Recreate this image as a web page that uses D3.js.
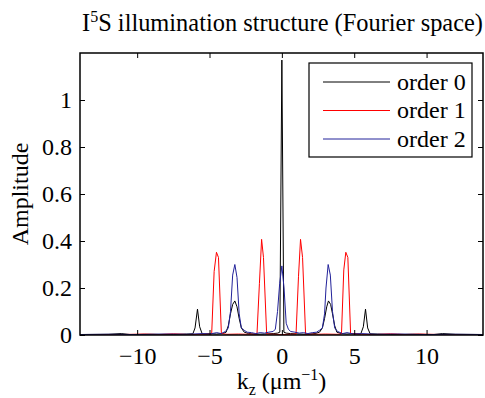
<!DOCTYPE html>
<html>
<head>
<meta charset="utf-8">
<script src="https://cdn.jsdelivr.net/npm/d3@7"></script>
<style>
  body { margin: 0; background: #fff; }
  svg text { font-family: "Liberation Serif", "Times New Roman", serif; }
</style>
</head>
<body>
<svg id="chart" width="485" height="398"></svg>
<script>
// k_z (um^-1), amplitude pairs
var order0 = [[-14,0.002],[-12,0.003],[-11.1,0.006],[-10.5,0.002],[-9,0.003],[-7.5,0.002],[-6.6,0.004],[-6.15,0.005],[-6.0,0.03],[-5.83,0.11],[-5.68,0.035],[-5.5,0.004],[-5.0,0.006],[-4.5,0.004],[-4.1,0.006],[-3.85,0.012],[-3.7,0.04],[-3.55,0.09],[-3.4,0.13],[-3.25,0.145],[-3.1,0.12],[-2.95,0.07],[-2.8,0.03],[-2.6,0.012],[-2.3,0.006],[-1.8,0.003],[-1.2,0.004],[-0.6,0.006],[-0.3,0.008],[-0.14,0.012],[0,1.17],[0.14,0.012],[0.3,0.008],[0.6,0.006],[1.2,0.004],[1.8,0.003],[2.3,0.006],[2.6,0.012],[2.8,0.03],[2.95,0.07],[3.1,0.12],[3.22,0.145],[3.37,0.13],[3.5,0.09],[3.65,0.04],[3.8,0.012],[4.1,0.006],[4.5,0.004],[5.0,0.006],[5.45,0.004],[5.63,0.035],[5.78,0.11],[5.93,0.03],[6.1,0.005],[6.6,0.004],[7.5,0.002],[9,0.003],[10.5,0.002],[11.1,0.006],[12,0.003],[14,0.002]];
var order1 = [[-14,0.001],[-11,0.002],[-9.5,0.004],[-8.5,0.002],[-7.5,0.005],[-6.5,0.002],[-5.5,0.003],[-4.85,0.004],[-4.68,0.27],[-4.52,0.352],[-4.38,0.33],[-4.18,0.006],[-3.8,0.003],[-3.0,0.004],[-2.4,0.003],[-1.72,0.004],[-1.55,0.22],[-1.4,0.407],[-1.27,0.33],[-1.05,0.004],[-0.6,0.003],[0,0.002],[0.6,0.003],[0.98,0.004],[1.15,0.25],[1.29,0.407],[1.43,0.33],[1.64,0.004],[2.4,0.003],[3.0,0.004],[3.8,0.003],[4.12,0.004],[4.28,0.277],[4.42,0.352],[4.56,0.33],[4.75,0.006],[5.5,0.003],[6.5,0.002],[7.5,0.005],[8.5,0.002],[9.5,0.004],[11,0.002],[14,0.001]];
var order2 = [[-14,0.002],[-12,0.003],[-10,0.002],[-8,0.004],[-6.5,0.003],[-5.5,0.006],[-5.0,0.004],[-4.5,0.01],[-4.2,0.006],[-3.9,0.015],[-3.7,0.03],[-3.55,0.1],[-3.4,0.255],[-3.25,0.30],[-3.1,0.245],[-2.95,0.09],[-2.8,0.03],[-2.6,0.02],[-2.4,0.012],[-2.1,0.01],[-1.8,0.006],[-1.5,0.01],[-1.2,0.008],[-0.9,0.012],[-0.6,0.015],[-0.45,0.025],[-0.3,0.1],[-0.15,0.22],[0,0.294],[0.15,0.2],[0.3,0.05],[0.45,0.025],[0.6,0.015],[0.9,0.012],[1.2,0.008],[1.5,0.01],[1.8,0.006],[2.1,0.01],[2.4,0.012],[2.6,0.02],[2.8,0.03],[2.95,0.09],[3.05,0.2],[3.2,0.30],[3.35,0.255],[3.5,0.1],[3.65,0.03],[3.85,0.015],[4.2,0.006],[4.5,0.01],[5.0,0.004],[5.5,0.006],[6.5,0.003],[8,0.004],[10,0.002],[12,0.003],[14,0.002]];

var seriesNames = ["order 0", "order 1", "order 2"];
var seriesColors = ["#000000", "#ff0000", "#22229a"];
var xTicks = [-10, -5, 0, 5, 10];
var yTicks = [0, 0.2, 0.4, 0.6, 0.8, 1];

var dd = { left: 80, right: 483, top: 53, bottom: 335 };

var svg = d3.select("#chart");

var x = d3.scaleLinear().domain([-13.95, 13.9]).range([dd.left, dd.right]);
var y = d3.scaleLinear().domain([0, 1.2]).range([dd.bottom, dd.top]);

svg.append("clipPath").attr("id", "clip")
  .append("rect")
  .attr("x", dd.left).attr("y", dd.top)
  .attr("width", dd.right - dd.left).attr("height", dd.bottom - dd.top);

var line = d3.line()
  .x(function(d) { return x(d[0]); })
  .y(function(d) { return y(d[1]); });

var plot = svg.append("g").attr("clip-path", "url(#clip)");
[order0, order1, order2].forEach(function(s, i) {
  plot.append("path")
    .datum(s)
    .attr("fill", "none")
    .attr("stroke", seriesColors[i])
    .attr("stroke-width", 1)
    .attr("d", line);
});

// axes, MATLAB style: ticks inside, box all round
var tl = 5;
var xAxis = svg.append("g")
  .attr("transform", "translate(0," + dd.bottom + ")")
  .call(d3.axisBottom(x).tickValues(xTicks).tickSizeInner(-tl).tickSizeOuter(0).tickPadding(12));
svg.append("g")
  .attr("transform", "translate(0," + dd.top + ")")
  .call(d3.axisTop(x).tickValues(xTicks).tickSizeInner(-tl).tickSizeOuter(0).tickFormat(""));
var yAxis = svg.append("g")
  .attr("transform", "translate(" + dd.left + ",0)")
  .call(d3.axisLeft(y).tickValues(yTicks).tickSizeInner(-tl).tickSizeOuter(0).tickPadding(8).tickFormat(d3.format("~g")));
svg.append("g")
  .attr("transform", "translate(" + dd.right + ",0)")
  .call(d3.axisRight(y).tickValues(yTicks).tickSizeInner(-tl).tickSizeOuter(0).tickFormat(""));

svg.selectAll(".domain").remove();
svg.selectAll(".tick line").attr("stroke", "#000");
svg.selectAll(".tick text").attr("fill", "#000").style("font-size", "24px");

svg.append("rect")
  .attr("x", dd.left).attr("y", dd.top)
  .attr("width", dd.right - dd.left).attr("height", dd.bottom - dd.top)
  .attr("fill", "none").attr("stroke", "#000").attr("stroke-width", 1.5);

// title
var title = svg.append("text")
  .attr("x", 282.5).attr("y", 31)
  .attr("text-anchor", "middle")
  .style("font-size", "24.4px");
title.append("tspan").text("I");
title.append("tspan").attr("dy", -9).style("font-size", "16px").text("5");
title.append("tspan").attr("dy", 9).text("S illumination structure (Fourier space)");

// x label
var xl = svg.append("text")
  .attr("x", (dd.left + dd.right) / 2).attr("y", 389)
  .attr("text-anchor", "middle")
  .style("font-size", "24px");
xl.append("tspan").text("k");
xl.append("tspan").attr("dy", 6).style("font-size", "16px").text("z");
xl.append("tspan").attr("dy", -6).text(" (\u03bcm");
xl.append("tspan").attr("dy", -9).style("font-size", "16px").text("\u22121");
xl.append("tspan").attr("dy", 9).text(")");

// y label
svg.append("text")
  .attr("transform", "translate(28," + (dd.top + dd.bottom) / 2 + ") rotate(-90)")
  .attr("text-anchor", "middle")
  .style("font-size", "24px")
  .text("Amplitude");

// legend
var lg = svg.append("g");
lg.append("rect")
  .attr("x", 309).attr("y", 63).attr("width", 163).attr("height", 94)
  .attr("fill", "#fff").attr("stroke", "#000").attr("stroke-width", 1.2);
seriesNames.forEach(function(n, i) {
  var ly = 82 + i * 28.5;
  lg.append("line")
    .attr("x1", 323).attr("x2", 390).attr("y1", ly).attr("y2", ly)
    .attr("stroke", seriesColors[i]).attr("stroke-width", 1);
  lg.append("text")
    .attr("x", 397).attr("y", ly).attr("dy", "0.33em")
    .style("font-size", "24px")
    .text(n);
});
</script>
</body>
</html>
